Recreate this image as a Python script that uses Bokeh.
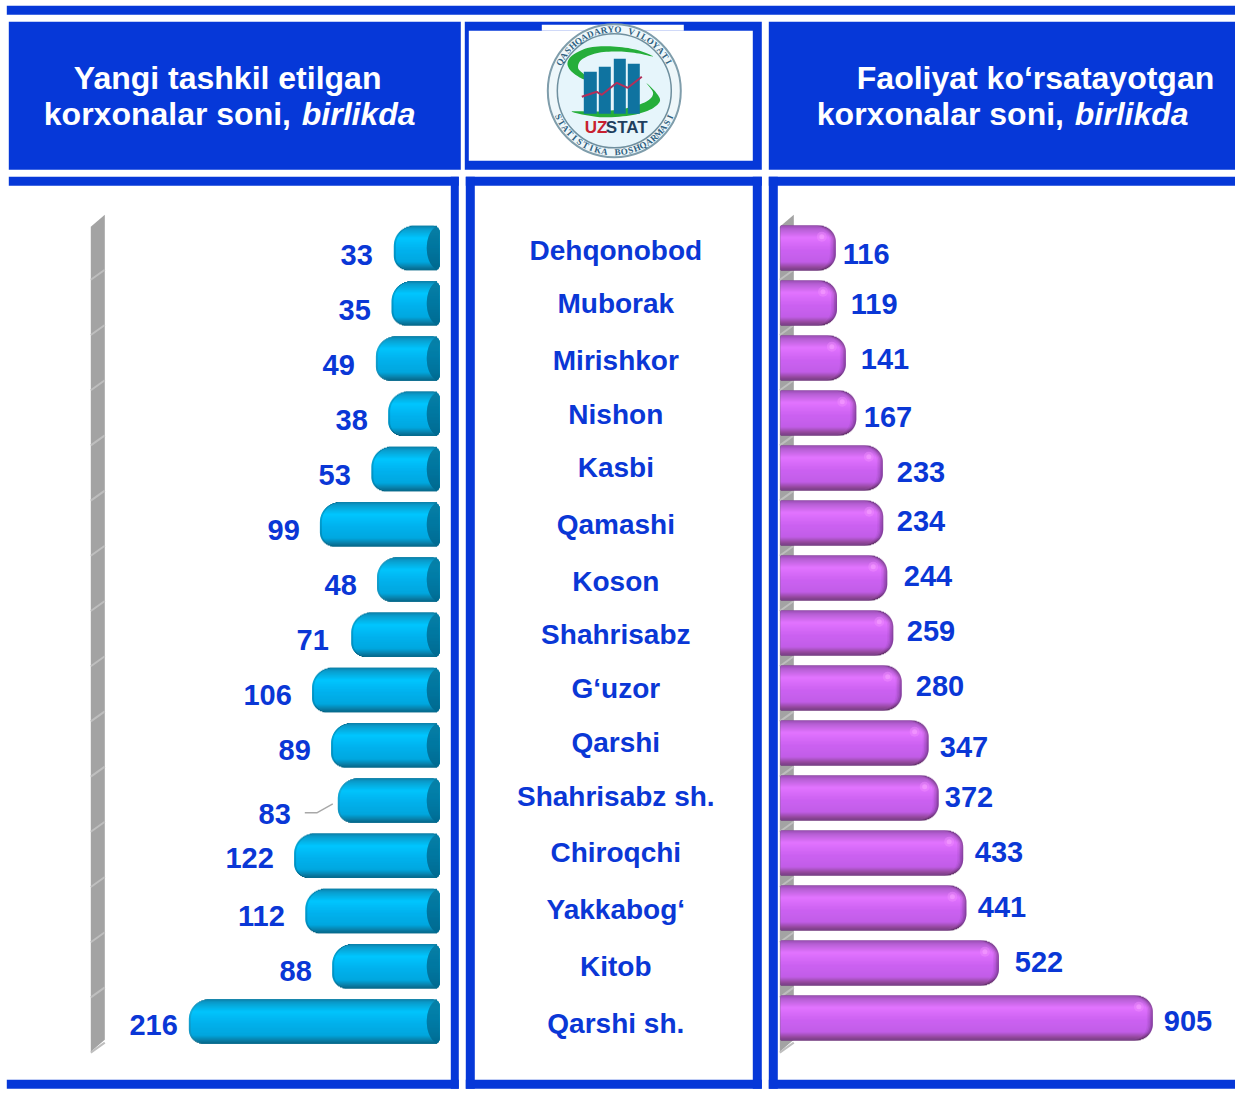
import math
from bokeh.plotting import figure
from bokeh.models import Range1d, ColumnDataSource
from bokeh.core.properties import value
from bokeh.embed import file_html
from bokeh.resources import INLINE

# ---------- data ----------
districts = ["Dehqonobod", "Muborak", "Mirishkor", "Nishon", "Kasbi", "Qamashi", "Koson", "Shahrisabz",
             "G\u2018uzor", "Qarshi", "Shahrisabz sh.", "Chiroqchi", "Yakkabog\u2018", "Kitob", "Qarshi sh."]
new_firms = [33, 35, 49, 38, 53, 99, 48, 71, 106, 89, 83, 122, 112, 88, 216]
active_firms = [116, 119, 141, 167, 233, 234, 244, 259, 280, 347, 372, 433, 441, 522, 905]
title_left = ["Yangi tashkil etilgan", "korxonalar soni, ", "birlikda"]
title_right = ["Faoliyat ko\u2018rsatayotgan", "korxonalar soni, ", "birlikda"]

# ---------- layout of labels (page pixels) ----------
left_label_right = [373, 371, 355, 368, 351, 300, 357, 329, 292, 311, 291, 274, 285, 312, 178]
left_label_y = [255, 310, 365, 420, 475, 530, 585, 640, 695, 750, 814, 858, 916, 971, 1025]
right_label_left = [843, 851, 861, 864, 897, 897, 904, 907, 916, 940, 945, 975, 978, 1015, 1164]
right_label_y = [254, 304, 359, 417, 472, 521, 576, 631, 686, 747, 797, 852, 907, 962, 1021]
center_y = [251, 304, 361, 415, 468, 525, 582, 635, 689, 743, 797, 853, 910, 967, 1024]

BLUE = "#0638D8"
TXT = "#0A37D6"
FONT = value("Liberation Sans")
PX0, PX1, PY0, PY1 = 0.7, 1235.7, 0.7, 1095.7

p = figure(width=1235, height=1095, output_backend="svg", toolbar_location=None,
           x_range=Range1d(PX0, PX1), y_range=Range1d(PY1, PY0), min_border=0)
p.axis.visible = False
p.grid.visible = False
p.outline_line_color = None
p.background_fill_color = "white"
p.border_fill_color = "white"

# scales of the two bar charts
L_ZERO, L_K = 431.0, 1.12
R_ZERO, R_K = 789.4, 0.4018
L_Y0, L_DY = 248.0, 55.25
R_Y0, R_DY = 248.0, 55.0
BAR_H = 44
p.extra_x_ranges["new"] = Range1d((L_ZERO - PX0) / L_K, (L_ZERO - PX1) / L_K)
p.extra_x_ranges["active"] = Range1d((PX0 - R_ZERO) / R_K, (PX1 - R_ZERO) / R_K)
p.extra_y_ranges["new_row"] = Range1d((PY1 - L_Y0) / L_DY, (PY0 - L_Y0) / L_DY)
p.extra_y_ranges["active_row"] = Range1d((PY1 - R_Y0) / R_DY, (PY0 - R_Y0) / R_DY)


def rgb(h):
    return tuple(int(h[i:i + 2], 16) for i in (1, 3, 5))


def ramp(stops, t, mult=1.0):
    for (a, ca), (b, cb) in zip(stops, stops[1:]):
        if t <= b:
            f = (t - a) / (b - a)
            c = [rgb(ca)[i] + (rgb(cb)[i] - rgb(ca)[i]) * f for i in range(3)]
            break
    else:
        c = rgb(stops[-1][1])
    return "#%02x%02x%02x" % tuple(int(max(0, min(255, x * mult))) for x in c)


def corner(d, r):
    """inset of a rounded corner at distance d from the edge"""
    if d >= r:
        return 0.0
    return r - math.sqrt(max(0.0, r * r - (r - d) ** 2))


def smooth(pts, n=8):
    """closed Catmull-Rom outline through the given points"""
    xs, ys = [], []
    m = len(pts)
    for i in range(m):
        p0, p1, p2, p3 = pts[i - 1], pts[i], pts[(i + 1) % m], pts[(i + 2) % m]
        for j in range(n):
            t = j / n
            for out, c in ((xs, 0), (ys, 1)):
                out.append(0.5 * (2 * p1[c] + (p2[c] - p0[c]) * t + (2 * p0[c] - 5 * p1[c] + 4 * p2[c] - p3[c]) * t * t
                                  + (3 * p1[c] - p0[c] - 3 * p2[c] + p3[c]) * t ** 3))
    return xs, ys


# ---------- frames ----------
rects = [
    (7, 1240, 6, 15), (9, 461, 22, 170), (465, 762, 22, 170), (769, 1240, 22, 170),
    (9, 459, 177, 186), (451, 459, 177, 1089), (7, 459, 1080, 1089),
    (466, 762, 177, 186), (466, 475, 177, 1089), (753, 762, 177, 1089), (466, 762, 1080, 1089),
    (769, 1240, 177, 186), (769, 778, 177, 1089), (769, 1240, 1080, 1089),
]
p.quad(left=[r[0] for r in rects], right=[r[1] for r in rects], top=[r[2] for r in rects],
       bottom=[r[3] for r in rects], fill_color=BLUE, line_color=None)
p.quad(left=[469, 542], right=[753, 684], top=[31, 25], bottom=[161, 31], fill_color="white", line_color=None)

# ---------- grey walls ----------
for wx in (91, 780):
    p.patch([wx, wx + 14, wx + 14, wx], [227, 215, 1040, 1052], fill_color="#A3A3A3", line_color=None)
    p.segment([wx] * 15, [280 + 55.2 * i for i in range(15)], [wx + 14] * 15, [270 + 55.2 * i for i in range(15)],
              line_color="#BEBEBE", line_width=2)

# ---------- left bars ----------
L_STOPS = [(0, "#0B7FA8"), (0.07, "#0A9CCC"), (0.28, "#00C6FF"), (0.55, "#00B2EE"), (0.82, "#00A8E0"),
           (0.94, "#0A7DA6"), (1, "#056A8C")]
CAP_STOPS = [(0, "#0A7FA5"), (0.5, "#00769F"), (1, "#006A90")]
END_L = (L_ZERO - 440) / L_K
for off, mult in ((0, 0.85), (2, 1.0)):
    d = dict(l=[], r=[], t=[], b=[], c=[])
    for i, v in enumerate(new_firms):
        for k in range(BAR_H):
            tt = (k + 0.5) / BAR_H
            ins = corner(k + 0.5, 20) if tt < 0.5 else corner(BAR_H - k - 0.5, 14)
            d["l"].append(v - (ins + off) / L_K)
            d["r"].append(END_L + corner(min(k, BAR_H - k), 6) / L_K)
            d["t"].append(i - BAR_H / 2 / L_DY + k / L_DY)
            d["b"].append(i - BAR_H / 2 / L_DY + (k + 1.4) / L_DY)
            d["c"].append(ramp(L_STOPS, tt, mult))
    p.quad(left="l", right="r", top="t", bottom="b", fill_color="c", line_color=None, source=ColumnDataSource(d),
           x_range_name="new", y_range_name="new_row")
d = dict(l=[], r=[], t=[], b=[], c=[])
for i, v in enumerate(new_firms):
    for k in range(BAR_H):
        tt = (k + 0.5) / BAR_H
        w = 13 * math.sqrt(max(0.0, 1 - (2 * tt - 1) ** 2))
        d["l"].append(END_L + w / L_K)
        d["r"].append(END_L + corner(min(k, BAR_H - k), 6) / L_K)
        d["t"].append(i - BAR_H / 2 / L_DY + k / L_DY)
        d["b"].append(i - BAR_H / 2 / L_DY + (k + 1.4) / L_DY)
        d["c"].append(ramp(CAP_STOPS, tt))
p.quad(left="l", right="r", top="t", bottom="b", fill_color="c", line_color=None, source=ColumnDataSource(d),
       x_range_name="new", y_range_name="new_row")

# ---------- right bars ----------
R_STOPS = [(0, "#9A50B4"), (0.08, "#B860D6"), (0.27, "#E274FF"), (0.55, "#CC62F2"), (0.82, "#C25EE8"),
           (0.94, "#96499F"), (1, "#7A4088")]
BASE_R = (781 - R_ZERO) / R_K
for off, mult in ((0, 0.68), (1.5, 0.78), (3, 0.88), (4.5, 0.95), (6, 1.0)):
    d = dict(l=[], r=[], t=[], b=[], c=[])
    for i, v in enumerate(active_firms):
        for k in range(BAR_H):
            tt = (k + 0.5) / BAR_H
            ins = corner(k + 0.5, 16) if tt < 0.5 else corner(BAR_H - k - 0.5, 16)
            d["l"].append(BASE_R)
            d["r"].append(v - (ins + off) / R_K)
            d["t"].append(i - BAR_H / 2 / R_DY + k / R_DY)
            d["b"].append(i - BAR_H / 2 / R_DY + (k + 1.4) / R_DY)
            d["c"].append(ramp(R_STOPS, tt, mult))
    p.quad(left="l", right="r", top="t", bottom="b", fill_color="c", line_color=None, source=ColumnDataSource(d),
           x_range_name="active", y_range_name="active_row")
p.scatter([v - 14 / R_K for v in active_firms], [i - 11 / R_DY for i in range(15)], size=10, fill_color="#F08CFF",
          fill_alpha=0.45, line_color=None, x_range_name="active", y_range_name="active_row")
p.scatter([v - 14 / R_K for v in active_firms], [i - 11 / R_DY for i in range(15)], size=5, fill_color="#F6A0FF",
          fill_alpha=0.6, line_color=None, x_range_name="active", y_range_name="active_row")

# leader line of label 83
p.line([305, 317, 333], [813, 813, 804], line_color="#A8A8A8", line_width=1.4)

# ---------- labels ----------
p.text(left_label_right, left_label_y, text=[str(v) for v in new_firms], text_color=TXT, text_font=FONT,
       text_font_style="bold", text_font_size="29px", text_align="right", text_baseline="middle")
p.text(right_label_left, right_label_y, text=[str(v) for v in active_firms], text_color=TXT, text_font=FONT,
       text_font_style="bold", text_font_size="29px", text_align="left", text_baseline="middle")
p.text([616] * 15, center_y, text=districts, text_color=TXT, text_font=FONT, text_font_style="bold",
       text_font_size="28px", text_align="center", text_baseline="middle")

# ---------- headers ----------
for x, y, s, st in [(74, 78, title_left[0], "bold"), (44, 114, title_left[1], "bold"), (302, 114, title_left[2], "bold italic"),
                    (857, 78, title_right[0], "bold"), (817, 114, title_right[1], "bold"), (1075, 114, title_right[2], "bold italic")]:
    p.text([x], [y], text=[s], text_color="white", text_font=FONT, text_font_style=st, text_font_size="32px",
           text_align="left", text_baseline="middle")

# ---------- logo ----------
CX, CY = 614.5, 91
p.circle([CX], [CY], radius=66.5, fill_color="#EEF7FA", line_color="#7F9DAB", line_width=2)
p.circle([CX], [CY], radius=57, fill_color="#E6F5FB", line_color="#6F8F9E", line_width=1.5)
ZOOM_X, ZOOM_Y = 440, 0
top_swoosh = [(640, 170), (590, 150), (520, 140), (450, 143), (400, 165), (383, 190), (395, 215), (430, 238),
              (433, 225), (415, 205), (425, 180), (470, 160), (530, 155), (590, 160)]
bot_swoosh = [(620, 250), (650, 280), (660, 305), (630, 330), (570, 347), (480, 352), (395, 335), (480, 335),
              (560, 325), (620, 305), (640, 280)]
for shape in (top_swoosh, bot_swoosh):
    xs, ys = smooth([(ZOOM_X + a / 3, ZOOM_Y + b / 3) for a, b in shape])
    p.patch(xs, ys, fill_color="#25AE3A", line_color=None)
p.quad(left=[584, 599, 614, 628], right=[597, 611, 626, 640], top=[72, 67, 59, 64], bottom=[114] * 4,
       fill_color="#0F73A0", line_color=None)
p.line([582, 597, 602, 617, 628, 642], [97, 92, 95, 83, 88, 77], line_color="#B0305A", line_width=2)
p.text([585], [128], text=["UZ"], text_color="#C8202F", text_font=FONT, text_font_style="bold", text_font_size="17px",
       text_align="left", text_baseline="middle")
p.text([606], [128], text=["STAT"], text_color="#1F3F5F", text_font=FONT, text_font_style="bold", text_font_size="17px",
       text_align="left", text_baseline="middle")
top_txt, bot_txt = "QASHQADARYO VILOYATI", "STATISTIKA BOSHQARMASI"
R = 61.5
tx, ty, ta, ts = [], [], [], []
for j, ch in enumerate(top_txt):
    th = math.radians(-62 + 124 * j / (len(top_txt) - 1))
    tx.append(CX + R * math.sin(th)); ty.append(CY - R * math.cos(th)); ta.append(-th); ts.append(ch)
for j, ch in enumerate(bot_txt):
    th = math.radians(-65 + 130 * j / (len(bot_txt) - 1))
    tx.append(CX + R * math.sin(th)); ty.append(CY + R * math.cos(th)); ta.append(th); ts.append(ch)
p.text(tx, ty, text=ts, angle=ta, text_color="#2F5F7F", text_font=value("Liberation Serif"), text_font_style="bold",
       text_font_size="9px", text_align="center", text_baseline="middle")

open("out.html", "w").write(file_html(p, INLINE))
